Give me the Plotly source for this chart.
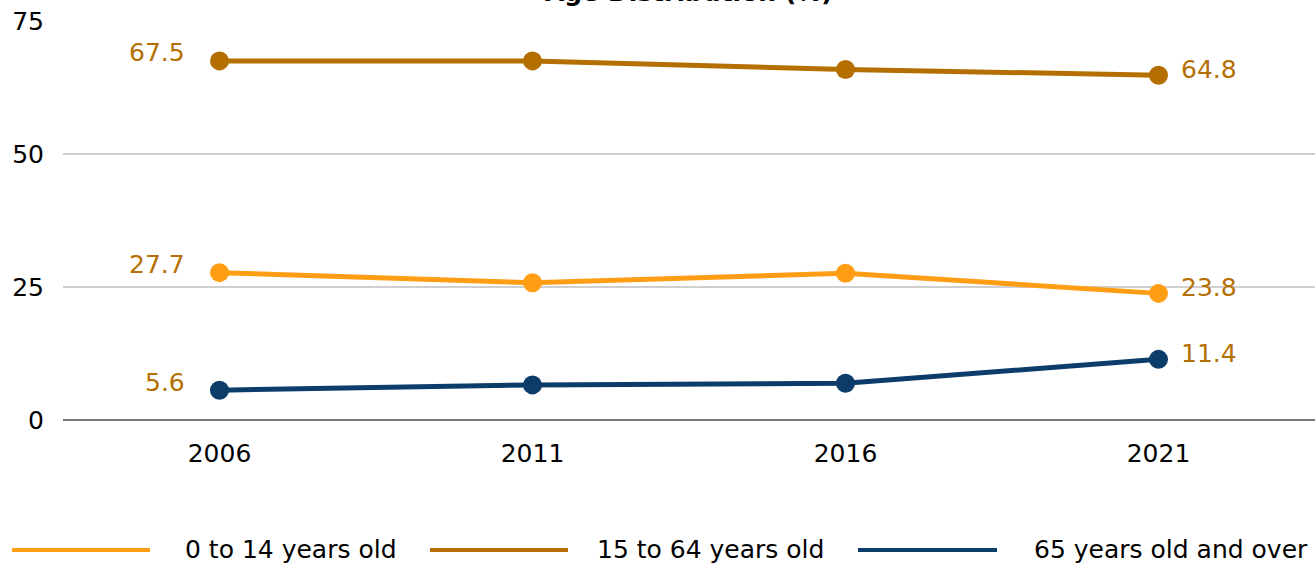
import plotly.graph_objects as go

years = ["2006", "2011", "2016", "2021"]
series_names = ["0 to 14 years old", "15 to 64 years old", "65 years old and over"]
age_0_14 = [27.7, 25.8, 27.6, 23.8]
age_15_64 = [67.5, 67.5, 65.9, 64.8]
age_65_plus = [5.6, 6.6, 6.9, 11.4]
y_ticks = [0, 25, 50, 75]
title_text = "Age Distribution (%)"

colors = ["#FF9E15", "#B46F00", "#0C3C69"]
label_color = "#B46F00"
series_values = [age_0_14, age_15_64, age_65_plus]
FONT = "DejaVu Sans"

fig = go.Figure()
for name, vals, col in zip(series_names, series_values, colors):
    fig.add_trace(go.Scatter(
        x=years, y=vals, name=name, mode="lines+markers",
        line=dict(color=col, width=5),
        marker=dict(color=col, size=19),
        showlegend=False,
    ))

annotations = []
first_idx, last_idx = 0, len(years) - 1
for vals in series_values:
    annotations.append(dict(x=first_idx, y=vals[0], xref="x", yref="y",
                            text=f"{vals[0]:.1f}", showarrow=False,
                            xanchor="right", yanchor="middle", xshift=-33, yshift=8,
                            font=dict(family=FONT, size=25, color=label_color)))
    annotations.append(dict(x=last_idx, y=vals[-1], xref="x", yref="y",
                            text=f"{vals[-1]:.1f}", showarrow=False,
                            xanchor="left", yanchor="middle", xshift=20, yshift=6,
                            font=dict(family=FONT, size=25, color=label_color)))

# partially visible title (cut by the top edge, as in the reference)
annotations.append(dict(x=0.5, y=1, xref="paper", yref="paper", text=f"<b>{title_text}</b>",
                        showarrow=False, xanchor="center", yanchor="bottom", yshift=12,
                        font=dict(family=FONT, size=25, color="#000")))

# custom legend
W, H = 1315, 563
PL, PR, PT, PB = 63, 1315, 21, 420
def px_x(px):
    return (px - PL) / (PR - PL)
def px_y(py):
    return (PB - py) / (PB - PT)

legend_line_x = [(12, 150), (430, 568), (858, 997)]
legend_text_x = [183, 595, 1032]
legend_y = 550
shapes = []
for (x0, x1), tx, name, col in zip(legend_line_x, legend_text_x, series_names, colors):
    shapes.append(dict(type="line", xref="paper", yref="paper",
                       x0=px_x(x0), x1=px_x(x1), y0=px_y(legend_y), y1=px_y(legend_y),
                       line=dict(color=col, width=4)))
    annotations.append(dict(x=px_x(tx), y=px_y(legend_y - 1), xref="paper", yref="paper",
                            text=name, showarrow=False, xanchor="left", yanchor="middle",
                            font=dict(family=FONT, size=25, color="#000")))

fig.update_layout(
    width=W, height=H,
    margin=dict(l=PL, r=W - PR, t=PT, b=H - PB),
    plot_bgcolor="white", paper_bgcolor="white",
    annotations=annotations, shapes=shapes,
    xaxis=dict(type="category", range=[-0.5, len(years) - 0.5], showgrid=False,
               zeroline=False, showline=False, ticks="", ticklabelstandoff=16,
               tickfont=dict(family=FONT, size=25, color="#000")),
    yaxis=dict(range=[0, 75], tickvals=y_ticks, showgrid=True, gridcolor="#CFCFCF",
               gridwidth=1.5, zeroline=True, zerolinecolor="#7A7A7A", zerolinewidth=1.5,
               ticks="", ticklabelstandoff=18,
               tickfont=dict(family=FONT, size=25, color="#000")),
)

fig.write_html("out.html")
